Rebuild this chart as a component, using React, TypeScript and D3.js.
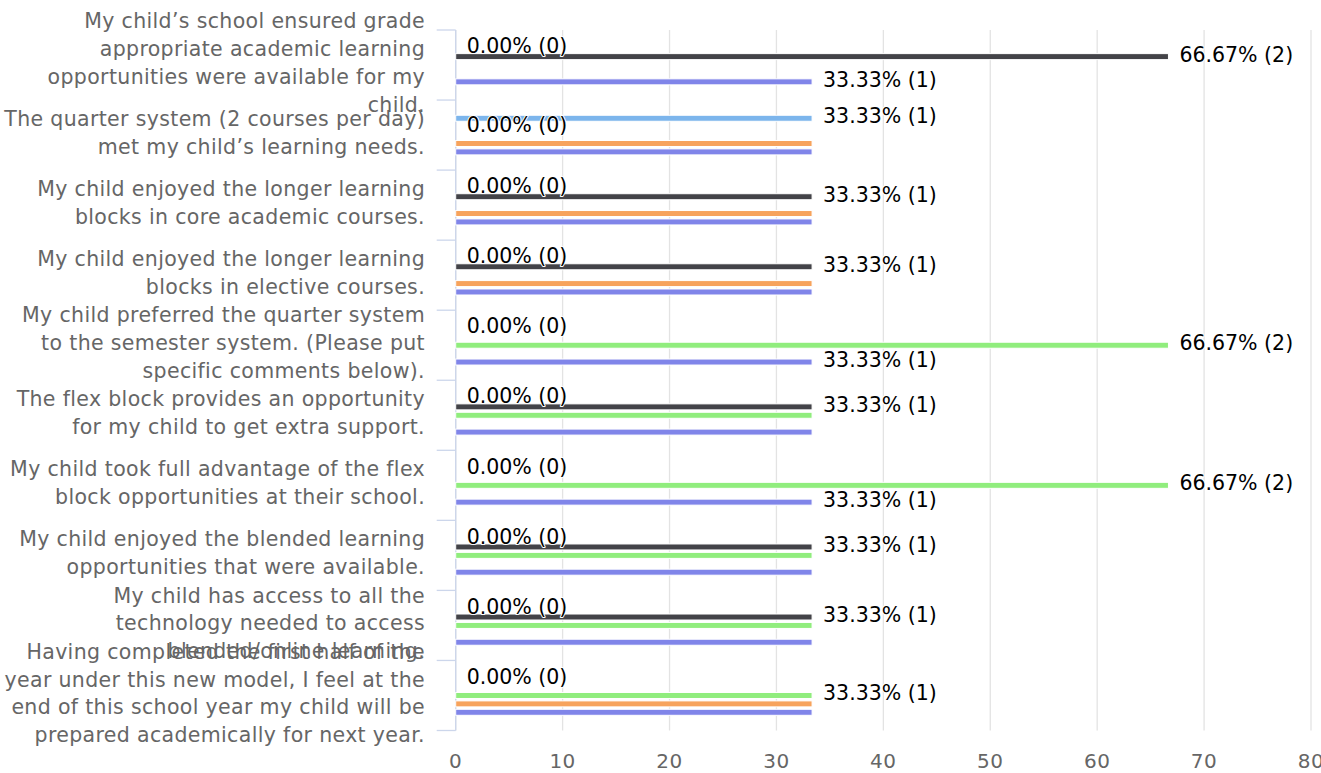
import * as d3 from "d3"
import { useEffect, useRef } from "react"

// survey statements, already broken into the lines shown on the axis
const categoryLines: string[][] = [
  ["My child’s school ensured grade", "appropriate academic learning", "opportunities were available for my", "child."],
  ["The quarter system (2 courses per day)", "met my child’s learning needs."],
  ["My child enjoyed the longer learning", "blocks in core academic courses."],
  ["My child enjoyed the longer learning", "blocks in elective courses."],
  ["My child preferred the quarter system", "to the semester system. (Please put", "specific comments below)."],
  ["The flex block provides an opportunity", "for my child to get extra support."],
  ["My child took full advantage of the flex", "block opportunities at their school."],
  ["My child enjoyed the blended learning", "opportunities that were available."],
  ["My child has access to all the", "technology needed to access", "blended/online learning."],
  ["Having completed the first half of the", "year under this new model, I feel at the", "end of this school year my child will be", "prepared academically for next year."],
]

const seriesNames = ["Strongly Agree", "Agree", "Neutral", "Disagree", "Strongly Disagree"]
const seriesColors = ["#7cb5ec", "#434348", "#90ed7d", "#f7a35c", "#8085e9"]

// response counts per category (3 respondents)
const respondents = 3
const stronglyAgree = [0, 1, 0, 0, 0, 0, 0, 0, 0, 0]
const agree = [2, 0, 1, 1, 0, 1, 0, 1, 1, 0]
const neutral = [0, 0, 0, 0, 2, 1, 2, 1, 1, 1]
const disagree = [0, 1, 1, 1, 0, 0, 0, 0, 0, 1]
const stronglyDisagree = [1, 1, 1, 1, 1, 1, 1, 1, 1, 1]

const xTicks = [0, 10, 20, 30, 40, 50, 60, 70, 80]

const FONT = "'DejaVu Sans', sans-serif"

export default function App() {
  const svgRef = useRef<SVGSVGElement>(null)

  useEffect(() => {
    if (!svgRef.current) return
    const svg = d3.select(svgRef.current)
    svg.selectAll("*").remove()

    const width = 1321
    const height = 773
    const plotLeft = 455.7
    const plotRight = 1311
    const plotTop = 30
    const plotBottom = 730.5

    svg.attr("width", width).attr("height", height)

    const counts = [stronglyAgree, agree, neutral, disagree, stronglyDisagree]
    const catIdx = categoryLines.map((_, i) => String(i))

    const x = d3.scaleLinear().domain([0, 80]).range([plotLeft, plotRight])
    const y = d3.scaleBand<string>().domain(catIdx).range([plotTop, plotBottom])
    const bw = y.bandwidth()
    const slot = d3
      .scaleBand<string>()
      .domain(seriesNames)
      .range([bw * 0.2, bw * 0.8])

    // vertical grid lines
    svg
      .append("g")
      .selectAll("line")
      .data(xTicks)
      .enter()
      .append("line")
      .attr("x1", (d) => x(d))
      .attr("x2", (d) => x(d))
      .attr("y1", plotTop)
      .attr("y2", plotBottom)
      .attr("stroke", "#e3e3e3")
      .attr("stroke-width", 1.3)

    // x axis labels
    svg
      .append("g")
      .selectAll("text")
      .data(xTicks)
      .enter()
      .append("text")
      .attr("x", (d) => x(d))
      .attr("y", 768)
      .attr("text-anchor", "middle")
      .style("font-family", FONT)
      .style("font-size", "20px")
      .style("letter-spacing", "0.5px")
      .style("fill", "#666666")
      .text((d) => d)

    // category axis line + ticks
    svg
      .append("line")
      .attr("x1", plotLeft)
      .attr("x2", plotLeft)
      .attr("y1", plotTop)
      .attr("y2", plotBottom)
      .attr("stroke", "#ccd6eb")
      .attr("stroke-width", 1.3)

    const tickYs = catIdx.map((c) => y(c)!).concat([plotBottom])
    svg
      .append("g")
      .selectAll("line")
      .data(tickYs)
      .enter()
      .append("line")
      .attr("x1", plotLeft - 19)
      .attr("x2", plotLeft)
      .attr("y1", (d) => d)
      .attr("y2", (d) => d)
      .attr("stroke", "#ccd6eb")
      .attr("stroke-width", 1.3)

    // category labels
    const catLabels = svg.append("g")
    categoryLines.forEach((lines, i) => {
      const center = y(String(i))! + bw / 2
      const n = lines.length
      lines.forEach((line, j) => {
        catLabels
          .append("text")
          .attr("x", 425)
          .attr("y", center + (j - (n - 1) / 2) * 27.8 + 5)
          .attr("text-anchor", "end")
          .style("font-family", FONT)
          .style("font-size", "20.5px")
          .style("letter-spacing", "0.35px")
          .style("fill", "#666666")
          .text(line)
      })
    })

    // bars
    const barH = 6
    const bars = svg.append("g")
    counts.forEach((arr, s) => {
      bars
        .selectAll(null)
        .data(arr.map((c, i) => ({ c, i })))
        .enter()
        .append("rect")
        .attr("x", plotLeft)
        .attr("y", (d) => y(String(d.i))! + slot(seriesNames[s])! + slot.bandwidth() / 2 - barH / 2)
        .attr("width", (d) => x((d.c / respondents) * 100) - plotLeft)
        .attr("height", barH)
        .attr("fill", seriesColors[s])
        .attr("stroke", "#ffffff")
        .attr("stroke-width", 1)
    })

    // data labels, hiding the ones that collide with an earlier label
    const fs = 20.5
    const labels: { x: number; y: number; w: number; text: string }[] = []
    categoryLines.forEach((_, i) => {
      counts.forEach((arr, s) => {
        const pct = (arr[i] / respondents) * 100
        const text = `${pct.toFixed(2)}% (${arr[i]})`
        const cy = y(String(i))! + slot(seriesNames[s])! + slot.bandwidth() / 2
        labels.push({ x: x(pct) + 11, y: cy, w: text.length * fs * 0.58, text })
      })
    })
    const boxH = 30
    const visible = labels.filter((a, j) =>
      labels.slice(0, j).every(
        (b) => Math.abs(a.y - b.y) >= boxH || a.x + a.w < b.x || b.x + b.w < a.x
      )
    )

    svg
      .append("g")
      .selectAll("text")
      .data(visible)
      .enter()
      .append("text")
      .attr("x", (d) => d.x)
      .attr("y", (d) => d.y + 5)
      .style("font-family", FONT)
      .style("font-size", `${fs}px`)
      .style("fill", "#000000")
      .style("stroke", "#ffffff")
      .style("stroke-width", "2px")
      .style("stroke-linejoin", "round")
      .style("paint-order", "stroke")
      .text((d) => d.text)
  }, [])

  return (
    <div style={{ position: "absolute", left: 0, top: 0, background: "#ffffff" }}>
      <svg ref={svgRef} width={1321} height={773} style={{ display: "block" }} />
    </div>
  )
}
